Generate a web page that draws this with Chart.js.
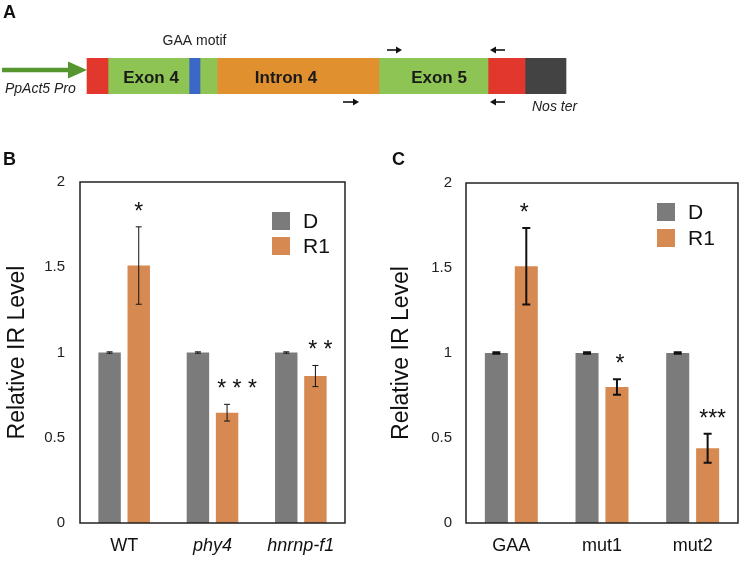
<!DOCTYPE html>
<html lang="en">
<head>
    <meta charset="UTF-8">
    <title>Relative IR Level</title>
    <script src="https://cdn.jsdelivr.net/npm/chart.js"></script>
    <style>
        body { margin: 0; background: #fff; }
        #wrap { position: relative; width: 742px; height: 562px; }
        canvas { position: absolute; }
    </style>
</head>
<body>
<div id="wrap">
    <canvas id="chartA" width="742" height="125" style="left:0;top:0"></canvas>
    <canvas id="chartB" width="370" height="432" style="left:0;top:130px"></canvas>
    <canvas id="chartC" width="372" height="432" style="left:370px;top:130px"></canvas>
</div>

<script>
// ---- panel A: construct map (positions in diagram units) ----
const segNames  = ["5' part", 'Exon 4', 'GAA motif', 'Exon 4 end', 'Intron 4', 'Exon 5', "3' part", 'Nos ter'];
const segStart  = [87, 108, 189, 200, 217, 379, 488, 525];
const segEnd    = [108, 189, 200, 217, 379, 488, 525, 566];
const segColors = ['#e2372c', '#8dc453', '#3b68c6', '#8dc453', '#e0902f', '#8dc453', '#e2372c', '#434343'];
const segText   = ['', 'Exon 4', '', '', 'Intron 4', 'Exon 5', '', ''];
const segTextAt = [0, 151, 0, 0, 286, 439, 0, 0];
const promoter  = [2, 87];
const primerFrom = [387, 505, 343, 505];
const primerTo   = [402, 490, 359, 490];
const primerSide = ['above', 'above', 'below', 'below'];

// ---- panels B and C: qPCR ----
const seriesNames = ['D', 'R1'];
const seriesColors = ['#7b7b7b', '#d68a52'];
const yTicks = [0, 0.5, 1, 1.5, 2];

const groupsB = ['WT', 'phy4', 'hnrnp-f1'];
const italicB = [false, true, true];
const dB      = [1, 1, 1];
const dErrB   = [0.004, 0.004, 0.004];
const r1B     = [1.51, 0.647, 0.862];
const r1ErrB  = [0.227, 0.049, 0.062];
const starsB  = ['*', '* * *', '* *'];

const groupsC = ['GAA', 'mut1', 'mut2'];
const italicC = [false, false, false];
const dC      = [1, 1, 1];
const dErrC   = [0.004, 0.004, 0.004];
const r1C     = [1.51, 0.80, 0.44];
const r1ErrC  = [0.225, 0.045, 0.085];
const starsC  = ['*', '*', '***'];

const FONT = '"Liberation Sans", Arial, Helvetica, sans-serif';
Chart.defaults.font.family = FONT;
Chart.defaults.color = '#111';

function arrow(ctx, x1, x2, y, lw, headLen, headHalf, color) {
    const dir = x2 > x1 ? 1 : -1;
    ctx.strokeStyle = color;
    ctx.fillStyle = color;
    ctx.lineWidth = lw;
    ctx.beginPath();
    ctx.moveTo(x1, y);
    ctx.lineTo(x2 - dir * headLen, y);
    ctx.stroke();
    ctx.beginPath();
    ctx.moveTo(x2, y);
    ctx.lineTo(x2 - dir * headLen, y - headHalf);
    ctx.lineTo(x2 - dir * headLen, y + headHalf);
    ctx.closePath();
    ctx.fill();
}

// labels, arrows and panel letter for the construct map
const constructDecor = {
    id: 'constructDecor',
    afterDatasetsDraw(chart) {
        const ctx = chart.ctx;
        const x = chart.scales.x;
        const top = chart.chartArea.top, bottom = chart.chartArea.bottom;
        const mid = (top + bottom) / 2;
        ctx.save();
        ctx.fillStyle = '#111';
        ctx.textBaseline = 'alphabetic';
        ctx.font = 'bold 18px ' + FONT;
        ctx.textAlign = 'left';
        ctx.fillText('A', 3, 18);

        ctx.font = 'bold 17px ' + FONT;
        ctx.textAlign = 'center';
        ctx.fillStyle = '#1a1a1a';
        segText.forEach((t, i) => {
            if (t) ctx.fillText(t, x.getPixelForValue(segTextAt[i]), mid + 7);
        });

        ctx.fillStyle = '#222';
        ctx.font = '14px ' + FONT;
        const gaa = segNames.indexOf('GAA motif');
        ctx.fillText('GAA motif', x.getPixelForValue((segStart[gaa] + segEnd[gaa]) / 2), top - 13);

        ctx.font = 'italic 14px ' + FONT;
        ctx.textAlign = 'left';
        ctx.fillText('PpAct5 Pro', 5, bottom - 1);
        ctx.fillText('Nos ter', x.getPixelForValue(segStart[7]) + 7, bottom + 17);

        arrow(ctx, x.getPixelForValue(promoter[0]), x.getPixelForValue(promoter[1]), mid - 6, 4.5, 19, 8.5, '#55962f');

        primerFrom.forEach((p, i) => {
            const y = primerSide[i] === 'above' ? top - 8 : bottom + 8;
            arrow(ctx, x.getPixelForValue(p), x.getPixelForValue(primerTo[i]), y, 1.6, 6, 3.5, '#111');
        });
        ctx.restore();
    }
};

new Chart(document.getElementById('chartA'), {
    type: 'bar',
    data: {
        labels: ['construct'],
        datasets: segNames.map((n, i) => ({
            label: n,
            data: [[segStart[i], segEnd[i]]],
            backgroundColor: segColors[i],
            grouped: false,
            barPercentage: 1,
            categoryPercentage: 1,
            borderWidth: 0
        }))
    },
    options: {
        indexAxis: 'y',
        responsive: false,
        animation: false,
        layout: { padding: { top: 58, bottom: 31, left: 0, right: 0 } },
        scales: {
            x: { type: 'linear', min: 0, max: 742, display: false },
            y: { display: false }
        },
        plugins: { legend: { display: false }, tooltip: { enabled: false } }
    },
    plugins: [constructDecor]
});

// frame, error bars, stars, legend, panel letter
const barDecor = {
    id: 'barDecor',
    afterDatasetsDraw(chart, args, o) {
        const ctx = chart.ctx;
        const a = chart.chartArea;
        const y = chart.scales.y;
        ctx.save();

        // error bars
        ctx.strokeStyle = '#111';
        ctx.lineWidth = o.errWidth;
        chart.data.datasets.forEach((ds, di) => {
            const meta = chart.getDatasetMeta(di);
            ds.errors.forEach((e, i) => {
                const bx = meta.data[i].x;
                const yHi = y.getPixelForValue(ds.data[i] + e);
                const yLo = y.getPixelForValue(ds.data[i] - e);
                ctx.beginPath();
                ctx.moveTo(bx, yHi); ctx.lineTo(bx, yLo);
                ctx.moveTo(bx - o.cap, yHi); ctx.lineTo(bx + o.cap, yHi);
                ctx.moveTo(bx - o.cap, yLo); ctx.lineTo(bx + o.cap, yLo);
                ctx.stroke();
            });
        });

        // significance stars above R1
        const r1 = chart.data.datasets[1];
        const meta1 = chart.getDatasetMeta(1);
        ctx.fillStyle = '#111';
        ctx.font = '23px ' + FONT;
        ctx.textAlign = 'center';
        ctx.textBaseline = 'alphabetic';
        o.stars.forEach((s, i) => {
            const top = y.getPixelForValue(r1.data[i] + r1.errors[i]);
            ctx.fillText(s, meta1.data[i].x + o.starShift[i], top - 22 + 14);
        });

        // frame
        ctx.strokeStyle = '#222';
        ctx.lineWidth = 1.5;
        ctx.strokeRect(a.left, a.top, a.right - a.left, a.bottom - a.top);

        // legend
        ctx.textAlign = 'left';
        ctx.textBaseline = 'middle';
        ctx.font = o.legendFont + 'px ' + FONT;
        chart.data.datasets.forEach((ds, di) => {
            const cy = a.top + o.legendTop + di * o.legendGap;
            ctx.fillStyle = ds.backgroundColor;
            ctx.fillRect(a.right - o.legendRight, cy - 9, 18, 18);
            ctx.fillStyle = '#111';
            ctx.fillText(ds.label, a.right - o.legendRight + 31, cy + 1);
        });

        // panel letter
        ctx.font = 'bold 18px ' + FONT;
        ctx.textBaseline = 'alphabetic';
        ctx.fillText(o.letter, o.letterX, 35);
        ctx.restore();
    }
};

function barPanel(id, groups, italic, d, dErr, r1, r1Err, stars, look) {
    return new Chart(document.getElementById(id), {
        type: 'bar',
        data: {
            labels: groups,
            datasets: [
                { label: seriesNames[0], data: d, errors: dErr, backgroundColor: seriesColors[0] },
                { label: seriesNames[1], data: r1, errors: r1Err, backgroundColor: seriesColors[1] }
            ]
        },
        options: {
            responsive: false,
            animation: false,
            categoryPercentage: 0.66,
            barPercentage: 0.77,
            layout: { padding: { top: look.top, right: look.right, left: 0, bottom: 0 } },
            scales: {
                x: {
                    grid: { display: false, drawTicks: false },
                    border: { display: false },
                    ticks: {
                        padding: 12,
                        color: '#111',
                        font: c => ({ size: 18, style: italic[c.index] ? 'italic' : 'normal' })
                    },
                    afterFit: s => { s.height = 39; }
                },
                y: {
                    min: 0,
                    max: 2,
                    afterBuildTicks: s => { s.ticks = yTicks.map(v => ({ value: v })); },
                    grid: { display: false, drawTicks: false },
                    border: { display: false },
                    ticks: {
                        padding: look.tickPad,
                        color: '#222',
                        font: { size: 15 },
                        callback: v => String(v)
                    },
                    title: {
                        display: true,
                        text: 'Relative IR Level',
                        color: '#111',
                        font: { size: 23 },
                        padding: { top: look.titlePad, bottom: 0 }
                    },
                    afterFit: s => { s.width = look.axisWidth; }
                }
            },
            plugins: {
                legend: { display: false },
                tooltip: { enabled: false },
                barDecor: {
                    letter: look.letter, letterX: look.letterX,
                    stars: stars, starShift: look.starShift,
                    errWidth: look.errWidth, cap: look.cap,
                    legendTop: look.legendTop, legendGap: look.legendGap,
                    legendRight: look.legendRight, legendFont: look.legendFont
                }
            }
        },
        plugins: [barDecor]
    });
}

barPanel('chartB', groupsB, italicB, dB, dErrB, r1B, r1ErrB, starsB, {
    top: 52, right: 25, axisWidth: 80, tickPad: 15, titlePad: 4,
    letter: 'B', letterX: 3, starShift: [0, 10, 5],
    errWidth: 1, cap: 3,
    legendTop: 39, legendGap: 25, legendRight: 73, legendFont: 21
});

barPanel('chartC', groupsC, italicC, dC, dErrC, r1C, r1ErrC, starsC, {
    top: 53, right: 4, axisWidth: 96, tickPad: 14, titlePad: 18,
    letter: 'C', letterX: 22, starShift: [-2, 3, 5],
    errWidth: 2, cap: 4,
    legendTop: 29, legendGap: 26, legendRight: 81, legendFont: 21
});
</script>
</body>
</html>
